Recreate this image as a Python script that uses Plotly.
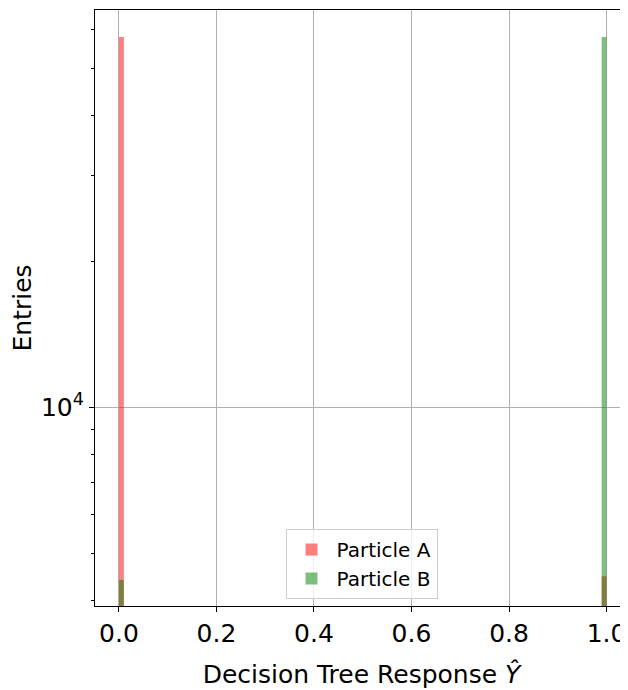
import plotly.graph_objects as go

# Histogram bins (left edges, width 0.01) that have entries
bin_left = [0.0, 0.99]
bin_width = 0.01
counts_A = [58000, 4480]
counts_B = [4400, 58000]

x_ticks = [0.0, 0.2, 0.4, 0.6, 0.8, 1.0]
x_tick_text = ["0.0", "0.2", "0.4", "0.6", "0.8", "1.0"]
y_major = [10000]
y_major_text = ["10<sup>4</sup>"]
y_minor = [4000, 5000, 6000, 7000, 8000, 9000, 20000, 30000, 40000, 50000, 60000]

fig = go.Figure()
fig.add_trace(go.Bar(x=bin_left, y=counts_A, width=bin_width, offset=0,
                     marker=dict(color="red", line=dict(width=0)), opacity=0.5,
                     name="Particle A"))
fig.add_trace(go.Bar(x=bin_left, y=counts_B, width=bin_width, offset=0,
                     marker=dict(color="green", line=dict(width=0)), opacity=0.5,
                     name="Particle B"))

font = "DejaVu Sans"
fig.update_layout(
    width=620, height=682,
    margin=dict(l=87, r=0, t=2, b=84, autoexpand=False),
    barmode="overlay",
    paper_bgcolor="white", plot_bgcolor="white",
    font=dict(family=font, color="black"),
    showlegend=True,
    legend=dict(x=0.5, y=0.0117, xanchor="center", yanchor="bottom",
                bgcolor="rgba(255,255,255,0.8)", bordercolor="#cccccc", borderwidth=1,
                font=dict(size=20, family=font), itemwidth=40),
    xaxis=dict(range=[-0.0492, 1.0441], tickvals=x_ticks, ticktext=x_tick_text,
               tickfont=dict(size=25), ticks="outside", ticklen=5, tickwidth=1,
               tickcolor="black", showline=True, linecolor="black", linewidth=1.2,
               mirror=True, showgrid=True, gridcolor="#b0b0b0", gridwidth=1,
               zeroline=False, ticklabeloverflow="allow",
               title=dict(text="Decision Tree Response <i>Ŷ</i>", font=dict(size=25), standoff=18)),
    yaxis=dict(type="log", range=[3.590, 4.819], tickvals=y_major, ticktext=y_major_text,
               tickfont=dict(size=25), ticks="outside", ticklen=5, tickwidth=1,
               tickcolor="black", showline=True, linecolor="black", linewidth=1.2,
               mirror=False, showgrid=True, gridcolor="#b0b0b0", gridwidth=1,
               zeroline=False,
               minor=dict(tickvals=y_minor, ticks="outside", ticklen=3, tickwidth=1,
                          tickcolor="black", showgrid=False),
               title=dict(text="Entries", font=dict(size=25), standoff=3)),
)

fig.write_html("out.html")
